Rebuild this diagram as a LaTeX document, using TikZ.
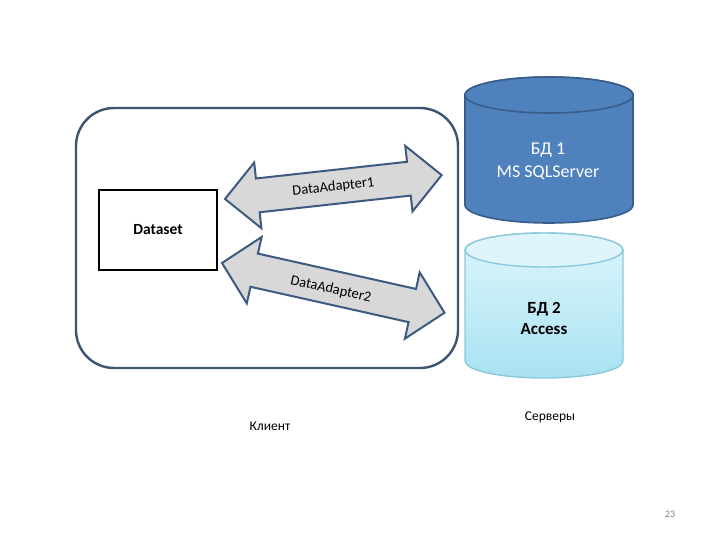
\documentclass[tikz,border=0pt]{standalone}
\usepackage{fontspec}
\setmainfont{Carlito}
\begin{document}
\begin{tikzpicture}[x=1pt,y=-1pt,
  frame/.style={draw=frameblue, line width=2.4pt, rounded corners=38pt},
  dsbox/.style={draw=black, line width=1.6pt, fill=white},
  arrowshape/.style={draw=arrowblue, line width=2pt, fill=arrowgray, line join=miter},
  lbl/.style={font=\fontsize{14.5}{16}\selectfont, inner sep=0pt},
  dbtext/.style={font=\fontsize{18}{23}\selectfont, align=center, inner sep=0pt}]
\definecolor{frameblue}{RGB}{60,84,112}
\definecolor{arrowblue}{RGB}{62,90,128}
\definecolor{arrowgray}{RGB}{216,216,216}
\definecolor{dbone}{RGB}{79,129,189}
\definecolor{dboneline}{RGB}{56,93,138}
\definecolor{dbtwotop}{RGB}{222,246,251}
\definecolor{dbtwobot}{RGB}{168,226,242}
\definecolor{dbtwoline}{RGB}{140,200,222}
\useasboundingbox[fill=white] (0,0) rectangle (720,540);

% client frame
\draw[frame] (76,108) rectangle (458,368);

% Dataset box
\node[dsbox, minimum width=118pt, minimum height=80pt, font=\fontsize{15.5}{18}\selectfont\bfseries] (ds) at (158,230) {Dataset};

% arrow 1
\begin{scope}[shift={(225,199)}, rotate=6.3]
  \draw[arrowshape] (0,0) -- (33,-33) -- (33,-17) -- (185,-17) -- (185,-33) -- (218,0)
    -- (185,33) -- (185,17) -- (33,17) -- (33,33) -- cycle;
  \node[lbl, rotate=6.3] (da1) at (109,0) {DataAdapter1};
\end{scope}

% arrow 2
\begin{scope}[shift={(222,263)}, rotate=-12.6]
  \draw[arrowshape] (0,0) -- (33,-34) -- (33,-17) -- (195,-17) -- (195,-34) -- (228,0)
    -- (195,34) -- (195,17) -- (33,17) -- (33,34) -- cycle;
  \node[lbl, rotate=-12.6] (da2) at (112,2) {DataAdapter2};
\end{scope}

% DB 1
\draw[draw=dboneline, line width=1.6pt, fill=dbone]
  (465,95) -- (465,205) arc[start angle=180, end angle=360, x radius=84pt, y radius=18pt]
  -- (633,95) arc[start angle=0, end angle=180, x radius=84pt, y radius=18pt] -- cycle;
\draw[draw=dboneline, line width=1.6pt, fill=dbone] (549,95) ellipse[x radius=84pt, y radius=18pt];
\node[dbtext, text=white] (db1) at (548,161) {БД 1\\MS SQLServer};

% DB 2
\draw[draw=dbtwoline, line width=1.4pt, top color=dbtwotop, bottom color=dbtwobot]
  (465,250) -- (465,361) arc[start angle=180, end angle=360, x radius=79pt, y radius=17pt]
  -- (623,250) arc[start angle=0, end angle=180, x radius=79pt, y radius=17pt] -- cycle;
\draw[draw=dbtwoline, line width=1.4pt, fill=dbtwotop] (544,250) ellipse[x radius=79pt, y radius=17pt];
\node[dbtext, font=\fontsize{17}{21}\selectfont\bfseries] (db2) at (544,318) {БД 2\\Access};

% captions
\node[font=\fontsize{13.5}{15}\selectfont, inner sep=0pt] (client) at (270,426) {Клиент};
\node[font=\fontsize{13.5}{15}\selectfont, inner sep=0pt] (servers) at (550,417) {Серверы};
\node[font=\fontsize{10}{12}\selectfont, text=gray, inner sep=0pt] (page) at (670,514) {23};
\end{tikzpicture}
\end{document}
